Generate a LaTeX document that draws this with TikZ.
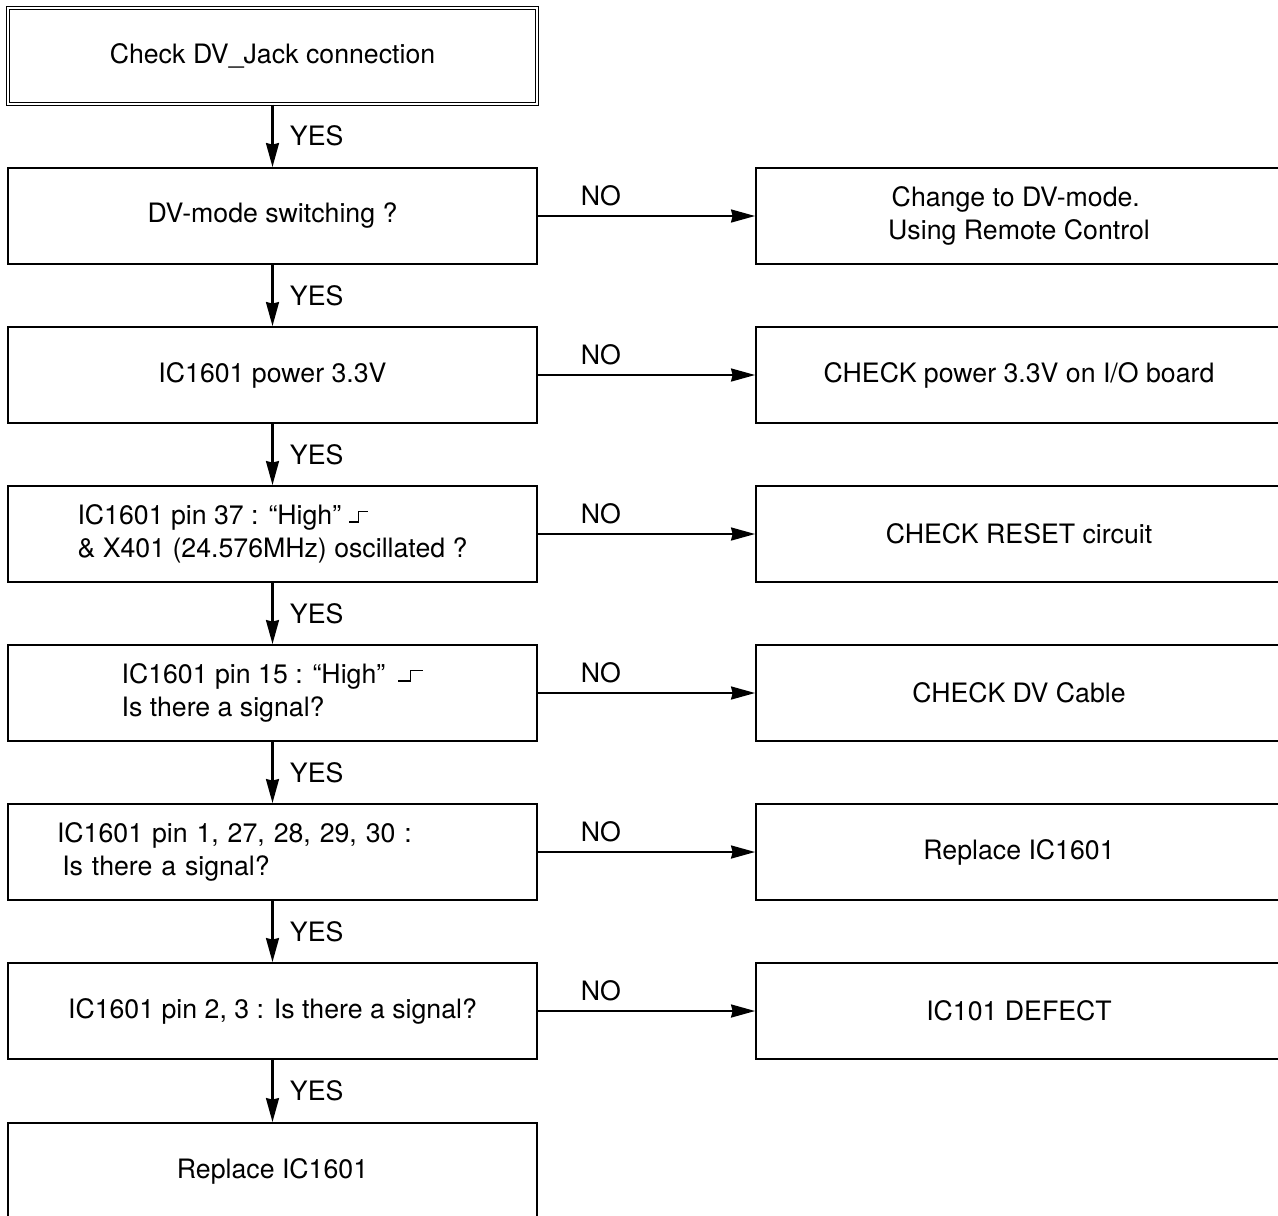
\documentclass[tikz,border=0pt]{standalone}
\usepackage{fontspec}
\setmainfont{TeX Gyre Heros}
\usetikzlibrary{arrows.meta,positioning}
\newcommand\flowfont{\fontsize{15.2}{19}\selectfont}
% rising edge mark: #1 gap before, #2 length of low/high part
\newcommand\sigrise[2]{\hspace{#1}\raisebox{1pt}{\rule{#2}{0.7pt}\rule{0.7pt}{6.8pt}\raisebox{6.1pt}{\rule{#2}{0.7pt}}}}
\tikzset{
  chkblk/.style={draw,rectangle,line width=1.1pt,minimum width=10.58cm,minimum height=1.92cm,inner sep=0pt,align=center},
  startblk/.style={chkblk,line width=0.6pt,double,double distance=1.1pt},
  lftblk/.style={chkblk,align=left,text width=8.62cm,inner xsep=0.98cm},
  actblk/.style={chkblk,minimum width=10.52cm},
  arr/.style={-{Stealth[length=0.48cm,width=0.26cm,inset=0.03cm]},line width=1.2pt},
  yeslbl/.style={right,xshift=6pt},
  nolbl/.style={above,pos=0.29,yshift=2pt}
}
\begin{document}
\begin{tikzpicture}[x=0.02cm,y=-0.02cm,every node/.style={font=\flowfont}]
  \useasboundingbox (0,0) rectangle (1278,1215);
  % Checks (left column)
  \node[startblk] (s1) at (272.5,56) {Check DV\_Jack connection};
  \node[chkblk] (s2) at (272.5,216) {DV-mode switching ?};
  \node[chkblk] (s3) at (272.5,375) {IC1601 power 3.3V};
  \node[chkblk,align=left] (s4) at (272.5,534) {IC1601 pin 37 : ``High''\sigrise{4.5pt}{5pt}\\ \& X401 (24.576MHz) oscillated ?};
  \node[chkblk,align=left] (s5) at (272.5,693) {IC1601 pin 15 : ``High''\sigrise{7.4pt}{6.8pt}\\ Is there a signal?};
  \node[lftblk] (s6) at (272.5,852) {IC1601 pin 1, 27, 28, 29, 30 :\\ \hspace{3pt}Is there a signal?};
  \node[chkblk] (s7) at (272.5,1011) {IC1601 pin 2, 3 : Is there a signal?};
  \node[chkblk] (s8) at (272.5,1171) {Replace IC1601};

  % Actions (right column)
  \node[actblk,align=left] (r2) at (1019,216) {\hspace{2pt}Change to DV-mode.\\ Using Remote Control};
  \node[actblk] (r3) at (1019,375) {CHECK power 3.3V on I/O board};
  \node[actblk] (r4) at (1019,534) {CHECK RESET circuit};
  \node[actblk] (r5) at (1019,693) {CHECK DV Cable};
  \node[actblk] (r6) at (1019,852) {Replace IC1601};
  \node[actblk] (r7) at (1019,1011) {IC101 DEFECT};

  % YES path
  \foreach \a/\b in {s1/s2,s2/s3,s3/s4,s4/s5,s5/s6,s6/s7,s7/s8}
    \draw[arr] (\a) -- node[yeslbl] {YES} (\b);

  % NO branches
  \foreach \a/\b in {s2/r2,s3/r3,s4/r4,s5/r5,s6/r6,s7/r7}
    \draw[arr] (\a.east) -- node[nolbl] {NO} (\b.west);
\end{tikzpicture}
\end{document}
